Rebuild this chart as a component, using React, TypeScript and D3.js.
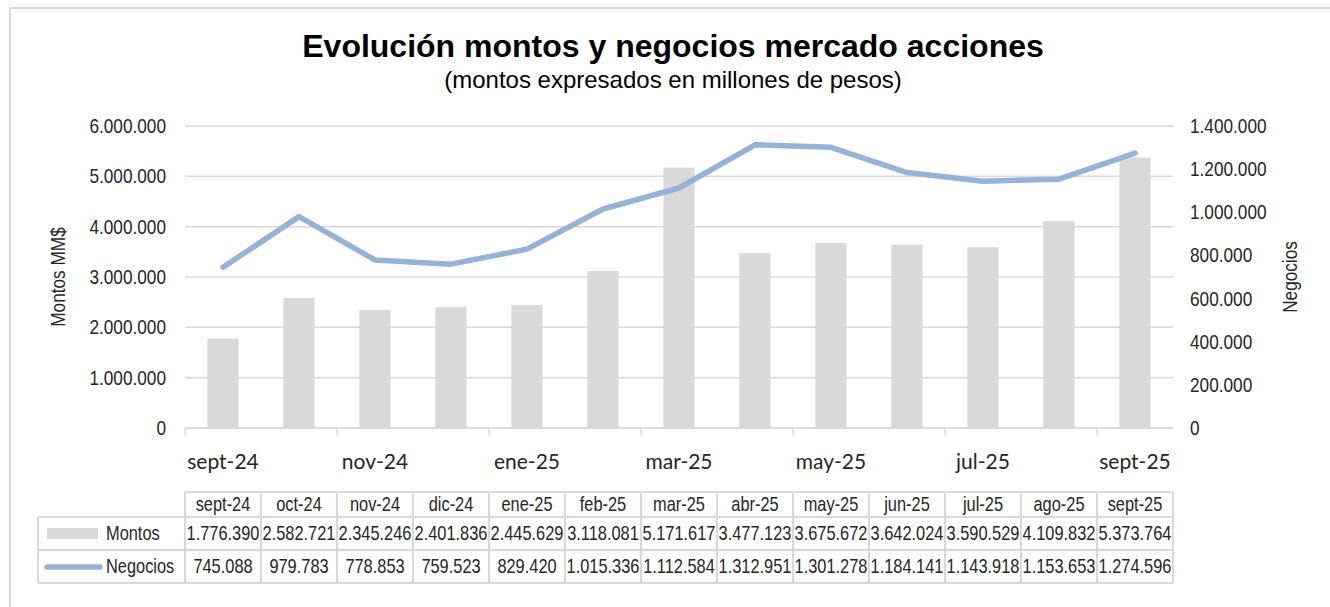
import React from 'react';
import * as d3 from 'd3';

const months = ['sept-24', 'oct-24', 'nov-24', 'dic-24', 'ene-25', 'feb-25', 'mar-25', 'abr-25', 'may-25', 'jun-25', 'jul-25', 'ago-25', 'sept-25'];
const montos = [1776390, 2582721, 2345246, 2401836, 2445629, 3118081, 5171617, 3477123, 3675672, 3642024, 3590529, 4109832, 5373764];
const negocios = [745088, 979783, 778853, 759523, 829420, 1015336, 1112584, 1312951, 1301278, 1184141, 1143918, 1153653, 1274596];
const leftTicks = [0, 1000000, 2000000, 3000000, 4000000, 5000000, 6000000];
const rightTicks = [0, 200000, 400000, 600000, 800000, 1000000, 1200000, 1400000];

const W = 1330;
const H = 607;
const plot = { left: 185, right: 1173, top: 126, bottom: 428 };
const table = { labelLeft: 38, top: 492, header: 517, mid: 550, bottom: 583 };

const GRID = '#d9d9d9';
const BAR = '#d9d9d9';
const LINE = '#95b3d7';
const TEXT = '#262626';
const ARIAL = "'Liberation Sans', Arial, sans-serif";
const CALIBRI = "Lato, 'Open Sans', sans-serif";

const fmt = d3.formatLocale({ thousands: '.', decimal: ',', grouping: [3], currency: ['$', ''] }).format(',d');

// Arial Narrow look-alike: Liberation Sans squeezed horizontally
const NText: React.FC<{ x: number; y: number; anchor?: string; size?: number; rotate?: number; children: React.ReactNode }> = ({
  x, y, anchor = 'start', size = 20, rotate = 0, children
}) => (
  <text
    transform={`translate(${x},${y}) rotate(${rotate}) scale(0.82,1)`}
    textAnchor={anchor}
    fontFamily={ARIAL}
    fontSize={size}
    fill={TEXT}
  >
    {children}
  </text>
);

const App: React.FC = () => {
  const x = d3.scaleBand<string>().domain(months).range([plot.left, plot.right]).padding(0);
  const yL = d3.scaleLinear().domain([0, 6000000]).range([plot.bottom, plot.top]);
  const yR = d3.scaleLinear().domain([0, 1400000]).range([plot.bottom, plot.top]);
  const bw = x.bandwidth();
  const barW = bw * 0.41;
  const cx = (m: string) => (x(m) || 0) + bw / 2;

  const line = d3.line<number>()
    .x((_, i) => cx(months[i]))
    .y(d => yR(d));

  const colEdges = months.map(m => x(m) || 0).concat([plot.right]);

  return (
    <svg width={W} height={H} style={{ position: 'absolute', left: 0, top: 0, background: '#fff' }}>
      {/* outer frame */}
      <rect x={10} y={8} width={W + 20} height={H + 20} fill="none" stroke={GRID} strokeWidth={2} />

      {/* titles */}
      <text x={673} y={57} textAnchor="middle" fontFamily={ARIAL} fontWeight="bold" fontSize={32} fill="#000">
        Evolución montos y negocios mercado acciones
      </text>
      <text x={673} y={88} textAnchor="middle" fontFamily={ARIAL} fontSize={24} fill="#000">
        (montos expresados en millones de pesos)
      </text>

      {/* gridlines */}
      {leftTicks.map(t => (
        <line key={t} x1={plot.left} x2={plot.right} y1={yL(t)} y2={yL(t)} stroke={GRID} strokeWidth={1.5} />
      ))}

      {/* bars */}
      {months.map((m, i) => (
        <rect key={m} x={cx(m) - barW / 2} y={yL(montos[i])} width={barW} height={plot.bottom - yL(montos[i])} fill={BAR} />
      ))}

      {/* line */}
      <path d={line(negocios) || ''} fill="none" stroke={LINE} strokeWidth={5.5} strokeLinecap="round" strokeLinejoin="round" />

      {/* x axis */}
      <line x1={plot.left} x2={plot.right} y1={plot.bottom} y2={plot.bottom} stroke={GRID} strokeWidth={1.5} />
      {months.map((m, i) => i % 2 === 0 ? (
        <g key={m}>
          <line x1={x(m)} x2={x(m)} y1={plot.bottom} y2={plot.bottom + 7} stroke={GRID} strokeWidth={1.5} />
          <text x={cx(m)} y={469} textAnchor="middle" fontFamily={CALIBRI} fontSize={21} fill={TEXT}>{m}</text>
        </g>
      ) : null)}

      {/* left axis */}
      {leftTicks.map(t => (
        <NText key={t} x={166} y={yL(t) + 7} anchor="end" size={21}>{fmt(t)}</NText>
      ))}
      <NText x={65} y={277} anchor="middle" size={21} rotate={-90}>Montos MM$</NText>

      {/* right axis */}
      {rightTicks.map(t => (
        <NText key={t} x={1190} y={yR(t) + 7} size={21}>{fmt(t)}</NText>
      ))}
      <NText x={1297} y={277} anchor="middle" size={21} rotate={-90}>Negocios</NText>

      {/* data table */}
      <g stroke={GRID} strokeWidth={2} fill="none">
        <line x1={plot.left} x2={plot.right} y1={table.top} y2={table.top} />
        <line x1={table.labelLeft} x2={plot.right} y1={table.header} y2={table.header} />
        <line x1={table.labelLeft} x2={plot.right} y1={table.mid} y2={table.mid} />
        <line x1={table.labelLeft} x2={plot.right} y1={table.bottom} y2={table.bottom} />
        <line x1={table.labelLeft} x2={table.labelLeft} y1={table.header} y2={table.bottom} />
        {colEdges.map((e, i) => (
          <line key={i} x1={e} x2={e} y1={table.top} y2={table.bottom} />
        ))}
      </g>
      {months.map((m, i) => (
        <g key={m}>
          <NText x={cx(m)} y={table.header - 6} anchor="middle" size={20}>{m}</NText>
          <NText x={cx(m)} y={table.mid - 10} anchor="middle" size={20}>{fmt(montos[i])}</NText>
          <NText x={cx(m)} y={table.bottom - 10} anchor="middle" size={20}>{fmt(negocios[i])}</NText>
        </g>
      ))}
      <rect x={47} y={528} width={51} height={11} fill={BAR} />
      <NText x={106} y={table.mid - 10} size={20}>Montos</NText>
      <line x1={47} x2={100} y1={567} y2={567} stroke={LINE} strokeWidth={5.5} strokeLinecap="round" />
      <NText x={106} y={table.bottom - 10} size={20}>Negocios</NText>
    </svg>
  );
};

export default App;
